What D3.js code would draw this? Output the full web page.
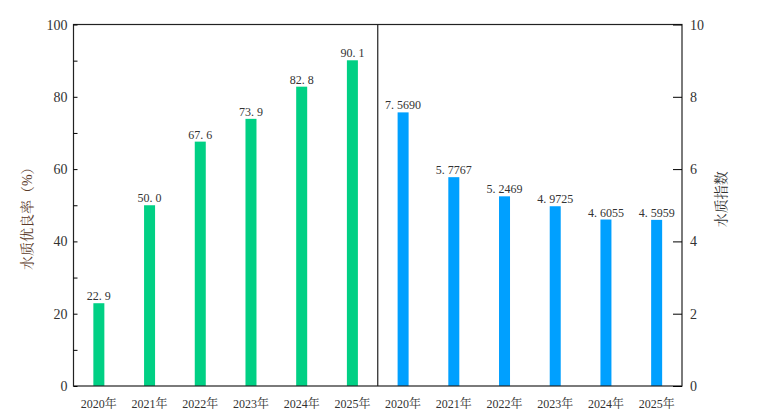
<!DOCTYPE html>
<html><head><meta charset="utf-8">
<script src="https://cdn.jsdelivr.net/npm/d3@7"></script>
<style>body{margin:0;background:#fff}svg{display:block}text{font-family:"Liberation Serif","Noto Serif CJK SC","Noto Sans CJK SC",serif}</style>
</head><body><svg id="chart" width="765" height="420"></svg>
<script>
const years = ["2020年","2021年","2022年","2023年","2024年","2025年"];
const rateValues = [22.9, 50.0, 67.6, 73.9, 82.8, 90.1];
const indexValues = [7.5690, 5.7767, 5.2469, 4.9725, 4.6055, 4.5959];
const leftTicks = [0, 20, 40, 60, 80, 100];
const rightTicks = [0, 2, 4, 6, 8, 10];

const m = { top: 24.5, right: 83, bottom: 34, left: 73.5 };
const W = 765, H = 420;
const svg = d3.select("#chart");
const slots = years.map(y => "L" + y).concat(years.map(y => "R" + y));
const x = d3.scaleBand().domain(slots).range([m.left, W - m.right]);
const yL = d3.scaleLinear().domain([0, 100]).range([H - m.bottom, m.top]);
const yR = d3.scaleLinear().domain([0, 10]).range([H - m.bottom, m.top]);
const bw = 11;

svg.selectAll(".gbar").data(rateValues).join("rect")
  .attr("x", (d, i) => x("L" + years[i]) + x.bandwidth() / 2 - bw / 2)
  .attr("y", d => yL(d)).attr("width", bw).attr("height", d => yL(0) - yL(d))
  .attr("fill", "#00d084");
svg.selectAll(".gl").data(rateValues).join("text")
  .attr("x", (d, i) => x("L" + years[i]) + x.bandwidth() / 2)
  .attr("y", d => yL(d) - 3).attr("text-anchor", "middle")
  .attr("font-size", 12).attr("fill", "#333").text(d => d.toFixed(1).replace(".", ". "));

svg.selectAll(".bbar").data(indexValues).join("rect")
  .attr("x", (d, i) => x("R" + years[i]) + x.bandwidth() / 2 - bw / 2)
  .attr("y", d => yR(d)).attr("width", bw).attr("height", d => yR(0) - yR(d))
  .attr("fill", "#00a0ff");
svg.selectAll(".bl").data(indexValues).join("text")
  .attr("x", (d, i) => x("R" + years[i]) + x.bandwidth() / 2)
  .attr("y", d => yR(d) - 3).attr("text-anchor", "middle")
  .attr("font-size", 12).attr("fill", "#333").text(d => d.toFixed(4).replace(".", ". "));

// frame
const x0 = m.left, x1 = W - m.right, yT = m.top, yB = H - m.bottom;
const xm = x("R" + years[0]);
svg.append("rect").attr("x", x0).attr("y", yT).attr("width", x1 - x0).attr("height", yB - yT)
  .attr("fill", "none").attr("stroke", "#222").attr("stroke-width", 1.2);
svg.append("line").attr("x1", xm).attr("x2", xm).attr("y1", yT).attr("y2", yB)
  .attr("stroke", "#222").attr("stroke-width", 1.2);

// left axis
const gl = svg.append("g").attr("transform", `translate(${x0},0)`)
  .call(d3.axisRight(yL).tickValues(d3.range(0, 101, 10)).tickSize(4).tickFormat(""));
gl.select(".domain").remove();
svg.selectAll(".lt").data(leftTicks).join("text").attr("x", x0 - 6).attr("y", d => yL(d) + 5)
  .attr("text-anchor", "end").attr("font-size", 14).attr("fill", "#333").text(d => d);
// right axis
const gr = svg.append("g").attr("transform", `translate(${x1},0)`)
  .call(d3.axisLeft(yR).tickValues(rightTicks).tickSize(9).tickFormat(""));
gr.select(".domain").remove();
svg.selectAll(".rt").data(rightTicks).join("text").attr("x", x1 + 8).attr("y", d => yR(d) + 5)
  .attr("font-size", 14).attr("fill", "#333").text(d => d);

// x labels
svg.selectAll(".xl").data(slots).join("text")
  .attr("x", d => x(d) + x.bandwidth() / 2).attr("y", yB + 22)
  .attr("text-anchor", "middle").attr("font-size", 12).attr("fill", "#333").text(d => d.slice(1));

svg.append("text").attr("transform", `translate(32,${(yT + yB) / 2 + 10}) rotate(-90)`)
  .attr("text-anchor", "middle").attr("font-size", 14).attr("fill", "#5a3a2a").text("水质优良率（%）");
svg.append("text").attr("transform", `translate(726,${(yT + yB) / 2 - 6}) rotate(-90)`)
  .attr("text-anchor", "middle").attr("font-size", 14).attr("fill", "#333").text("水质指数");
</script></body></html>
